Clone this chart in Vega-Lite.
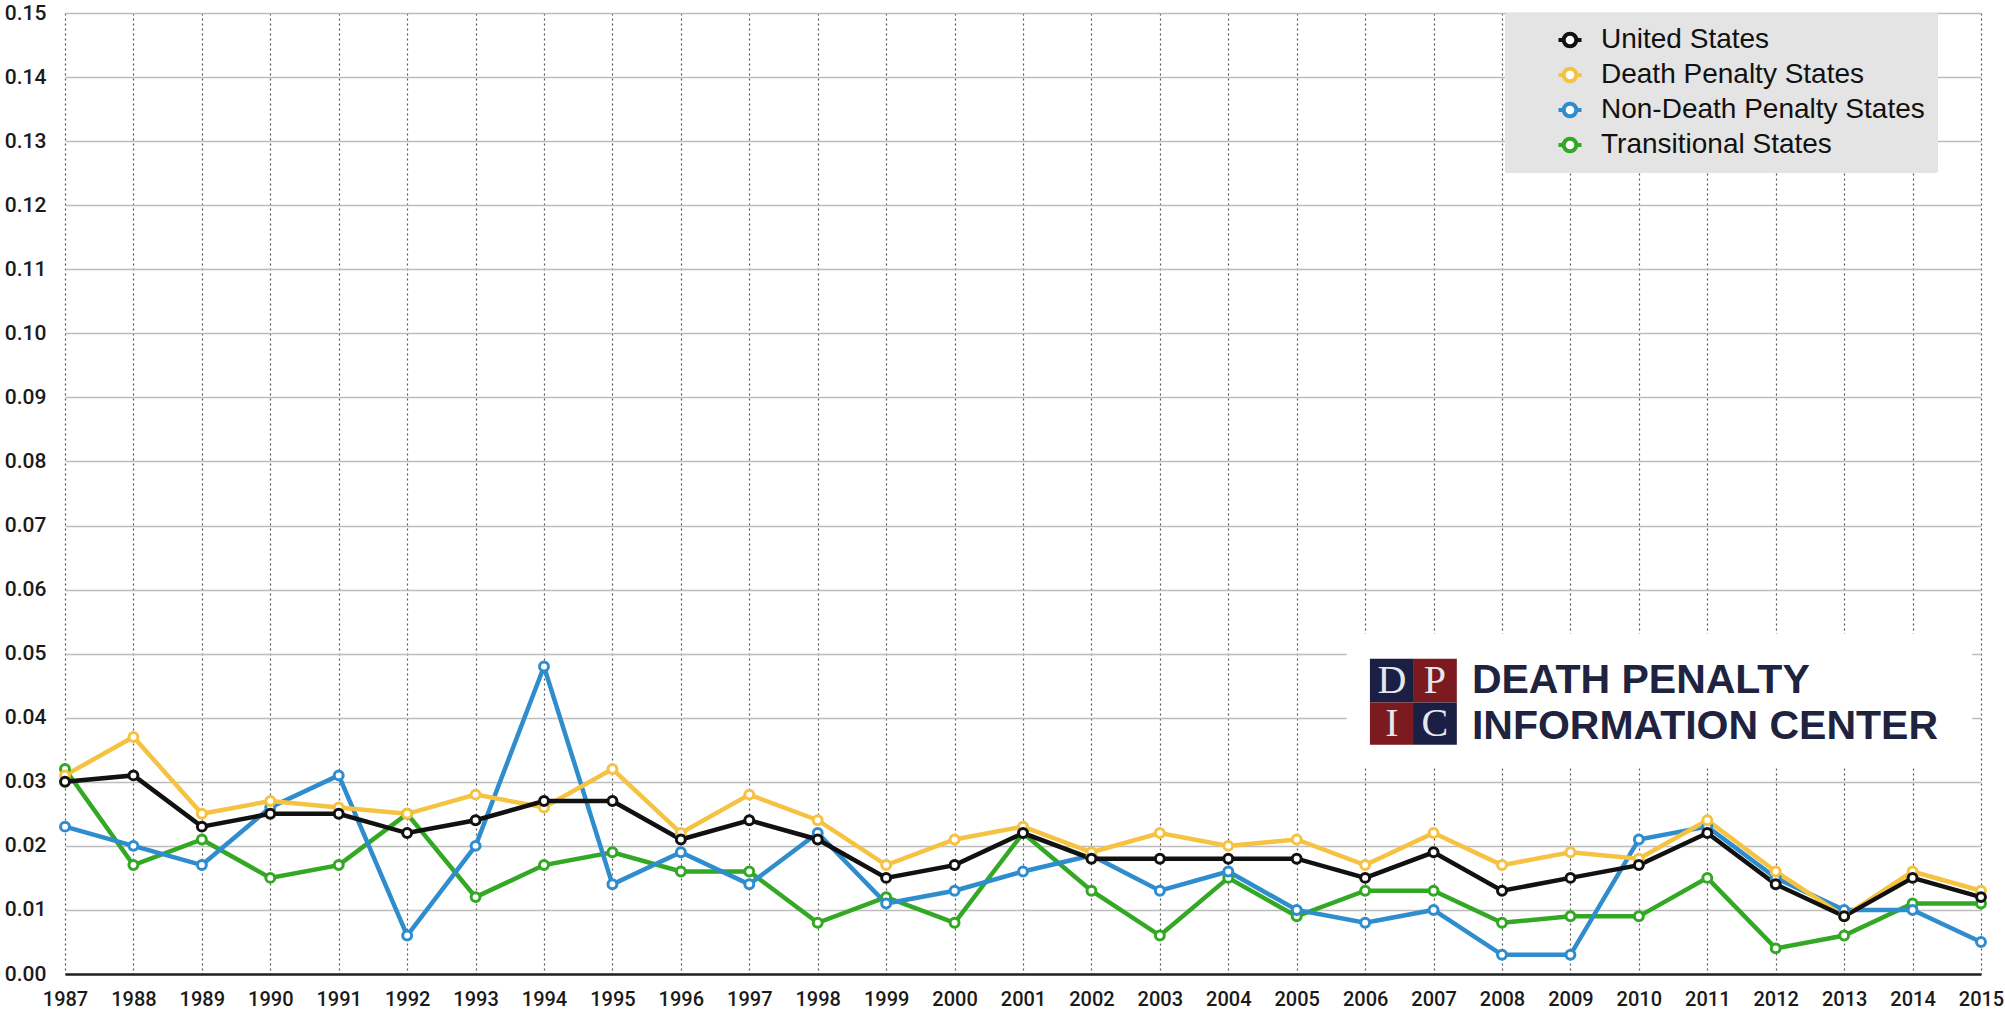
{
  "$schema": "https://vega.github.io/schema/vega-lite/v6.json",
  "width": 1916,
  "height": 961,
  "autosize": {"type": "none"},
  "padding": {"left": 65, "top": 13, "right": 24, "bottom": 38},
  "background": "white",
  "config": {
    "view": {"stroke": null},
    "font": "Roboto",
    "axis": {"labelFont": "Roboto", "labelFontWeight": 500, "labelFontSize": 20, "labelColor": "#1a1a1a", "ticks": false, "title": null}
  },
  "datasets": {
    "rates": [
      {"year":1987,"series":"Transitional States","value":0.032},
      {"year":1988,"series":"Transitional States","value":0.017},
      {"year":1989,"series":"Transitional States","value":0.021},
      {"year":1990,"series":"Transitional States","value":0.015},
      {"year":1991,"series":"Transitional States","value":0.017},
      {"year":1992,"series":"Transitional States","value":0.025},
      {"year":1993,"series":"Transitional States","value":0.012},
      {"year":1994,"series":"Transitional States","value":0.017},
      {"year":1995,"series":"Transitional States","value":0.019},
      {"year":1996,"series":"Transitional States","value":0.016},
      {"year":1997,"series":"Transitional States","value":0.016},
      {"year":1998,"series":"Transitional States","value":0.008},
      {"year":1999,"series":"Transitional States","value":0.012},
      {"year":2000,"series":"Transitional States","value":0.008},
      {"year":2001,"series":"Transitional States","value":0.022},
      {"year":2002,"series":"Transitional States","value":0.013},
      {"year":2003,"series":"Transitional States","value":0.006},
      {"year":2004,"series":"Transitional States","value":0.015},
      {"year":2005,"series":"Transitional States","value":0.009},
      {"year":2006,"series":"Transitional States","value":0.013},
      {"year":2007,"series":"Transitional States","value":0.013},
      {"year":2008,"series":"Transitional States","value":0.008},
      {"year":2009,"series":"Transitional States","value":0.009},
      {"year":2010,"series":"Transitional States","value":0.009},
      {"year":2011,"series":"Transitional States","value":0.015},
      {"year":2012,"series":"Transitional States","value":0.004},
      {"year":2013,"series":"Transitional States","value":0.006},
      {"year":2014,"series":"Transitional States","value":0.011},
      {"year":2015,"series":"Transitional States","value":0.011},
      {"year":1987,"series":"Non-Death Penalty States","value":0.023},
      {"year":1988,"series":"Non-Death Penalty States","value":0.020},
      {"year":1989,"series":"Non-Death Penalty States","value":0.017},
      {"year":1990,"series":"Non-Death Penalty States","value":0.026},
      {"year":1991,"series":"Non-Death Penalty States","value":0.031},
      {"year":1992,"series":"Non-Death Penalty States","value":0.006},
      {"year":1993,"series":"Non-Death Penalty States","value":0.020},
      {"year":1994,"series":"Non-Death Penalty States","value":0.048},
      {"year":1995,"series":"Non-Death Penalty States","value":0.014},
      {"year":1996,"series":"Non-Death Penalty States","value":0.019},
      {"year":1997,"series":"Non-Death Penalty States","value":0.014},
      {"year":1998,"series":"Non-Death Penalty States","value":0.022},
      {"year":1999,"series":"Non-Death Penalty States","value":0.011},
      {"year":2000,"series":"Non-Death Penalty States","value":0.013},
      {"year":2001,"series":"Non-Death Penalty States","value":0.016},
      {"year":2002,"series":"Non-Death Penalty States","value":0.0185},
      {"year":2003,"series":"Non-Death Penalty States","value":0.013},
      {"year":2004,"series":"Non-Death Penalty States","value":0.016},
      {"year":2005,"series":"Non-Death Penalty States","value":0.010},
      {"year":2006,"series":"Non-Death Penalty States","value":0.008},
      {"year":2007,"series":"Non-Death Penalty States","value":0.010},
      {"year":2008,"series":"Non-Death Penalty States","value":0.003},
      {"year":2009,"series":"Non-Death Penalty States","value":0.003},
      {"year":2010,"series":"Non-Death Penalty States","value":0.021},
      {"year":2011,"series":"Non-Death Penalty States","value":0.023},
      {"year":2012,"series":"Non-Death Penalty States","value":0.015},
      {"year":2013,"series":"Non-Death Penalty States","value":0.010},
      {"year":2014,"series":"Non-Death Penalty States","value":0.010},
      {"year":2015,"series":"Non-Death Penalty States","value":0.005},
      {"year":1987,"series":"Death Penalty States","value":0.031},
      {"year":1988,"series":"Death Penalty States","value":0.037},
      {"year":1989,"series":"Death Penalty States","value":0.025},
      {"year":1990,"series":"Death Penalty States","value":0.027},
      {"year":1991,"series":"Death Penalty States","value":0.026},
      {"year":1992,"series":"Death Penalty States","value":0.025},
      {"year":1993,"series":"Death Penalty States","value":0.028},
      {"year":1994,"series":"Death Penalty States","value":0.026},
      {"year":1995,"series":"Death Penalty States","value":0.032},
      {"year":1996,"series":"Death Penalty States","value":0.022},
      {"year":1997,"series":"Death Penalty States","value":0.028},
      {"year":1998,"series":"Death Penalty States","value":0.024},
      {"year":1999,"series":"Death Penalty States","value":0.017},
      {"year":2000,"series":"Death Penalty States","value":0.021},
      {"year":2001,"series":"Death Penalty States","value":0.023},
      {"year":2002,"series":"Death Penalty States","value":0.019},
      {"year":2003,"series":"Death Penalty States","value":0.022},
      {"year":2004,"series":"Death Penalty States","value":0.020},
      {"year":2005,"series":"Death Penalty States","value":0.021},
      {"year":2006,"series":"Death Penalty States","value":0.017},
      {"year":2007,"series":"Death Penalty States","value":0.022},
      {"year":2008,"series":"Death Penalty States","value":0.017},
      {"year":2009,"series":"Death Penalty States","value":0.019},
      {"year":2010,"series":"Death Penalty States","value":0.018},
      {"year":2011,"series":"Death Penalty States","value":0.024},
      {"year":2012,"series":"Death Penalty States","value":0.016},
      {"year":2013,"series":"Death Penalty States","value":0.009},
      {"year":2014,"series":"Death Penalty States","value":0.016},
      {"year":2015,"series":"Death Penalty States","value":0.013},
      {"year":1987,"series":"United States","value":0.030},
      {"year":1988,"series":"United States","value":0.031},
      {"year":1989,"series":"United States","value":0.023},
      {"year":1990,"series":"United States","value":0.025},
      {"year":1991,"series":"United States","value":0.025},
      {"year":1992,"series":"United States","value":0.022},
      {"year":1993,"series":"United States","value":0.024},
      {"year":1994,"series":"United States","value":0.027},
      {"year":1995,"series":"United States","value":0.027},
      {"year":1996,"series":"United States","value":0.021},
      {"year":1997,"series":"United States","value":0.024},
      {"year":1998,"series":"United States","value":0.021},
      {"year":1999,"series":"United States","value":0.015},
      {"year":2000,"series":"United States","value":0.017},
      {"year":2001,"series":"United States","value":0.022},
      {"year":2002,"series":"United States","value":0.018},
      {"year":2003,"series":"United States","value":0.018},
      {"year":2004,"series":"United States","value":0.018},
      {"year":2005,"series":"United States","value":0.018},
      {"year":2006,"series":"United States","value":0.015},
      {"year":2007,"series":"United States","value":0.019},
      {"year":2008,"series":"United States","value":0.013},
      {"year":2009,"series":"United States","value":0.015},
      {"year":2010,"series":"United States","value":0.017},
      {"year":2011,"series":"United States","value":0.022},
      {"year":2012,"series":"United States","value":0.014},
      {"year":2013,"series":"United States","value":0.009},
      {"year":2014,"series":"United States","value":0.015},
      {"year":2015,"series":"United States","value":0.012}
    ],
    "logoBox": [{"x1": 2005.73, "x2": 2014.87, "y1": 0.0321, "y2": 0.0531}],
    "logoCells": [
      {"cell": "D", "x1": 2006.07, "x2": 2006.70, "y1": 0.04237, "y2": 0.04921, "lx": 2006.39, "ly": 0.04579},
      {"cell": "P", "x1": 2006.70, "x2": 2007.34, "y1": 0.04237, "y2": 0.04921, "lx": 2007.02, "ly": 0.04579},
      {"cell": "I", "x1": 2006.07, "x2": 2006.70, "y1": 0.03579, "y2": 0.04237, "lx": 2006.39, "ly": 0.03908},
      {"cell": "C", "x1": 2006.70, "x2": 2007.34, "y1": 0.03579, "y2": 0.04237, "lx": 2007.02, "ly": 0.03908}
    ],
    "logoText": [
      {"line": "DEATH PENALTY", "x": 2007.56, "y": 0.04392},
      {"line": "INFORMATION CENTER", "x": 2007.56, "y": 0.03667}
    ]
  },
  "layer": [
    {
      "data": {"name": "rates"},
      "mark": {"type": "line", "strokeWidth": 4.5},
      "encoding": {
        "x": {
          "field": "year", "type": "quantitative", "title": null,
          "scale": {"domain": [1987, 2015], "nice": false, "zero": false},
          "axis": {
            "values": [1987,1988,1989,1990,1991,1992,1993,1994,1995,1996,1997,1998,1999,2000,2001,2002,2003,2004,2005,2006,2007,2008,2009,2010,2011,2012,2013,2014,2015],
            "format": "d", "labelPadding": 15, "labelFlush": false, "labelOverlap": false,
            "grid": true, "gridColor": "#555555", "gridDash": [2, 3], "gridWidth": 1.2,
            "domain": true, "domainColor": "#222222", "domainWidth": 2.5
          }
        },
        "y": {
          "field": "value", "type": "quantitative", "title": null,
          "scale": {"domain": [0, 0.15], "nice": false},
          "axis": {
            "values": [0,0.01,0.02,0.03,0.04,0.05,0.06,0.07,0.08,0.09,0.1,0.11,0.12,0.13,0.14,0.15],
            "format": ".2f", "labelPadding": 19, "labelFontSize": 21, "labelFlush": false, "labelOverlap": false,
            "grid": true, "gridColor": "#bdbdbd", "gridWidth": 1.5, "domain": false
          }
        },
        "color": {
          "field": "series", "type": "nominal",
          "sort": ["Transitional States", "Non-Death Penalty States", "Death Penalty States", "United States"],
          "scale": {
            "domain": ["United States", "Death Penalty States", "Non-Death Penalty States", "Transitional States"],
            "range": ["#111111", "#f5c242", "#2f8dce", "#33a824"]
          },
          "legend": {
            "title": null,
            "orient": "none",
            "legendX": 1440,
            "legendY": 0,
            "fillColor": "#e4e4e4",
            "cornerRadius": 2,
            "padding": 13,
            "rowPadding": 5,
            "labelFont": "Liberation Sans",
            "labelFontSize": 28,
            "labelColor": "#111111",
            "labelOffset": 17,
            "labelLimit": 600,
            "symbolType": "M-1,0H-0.55M0.55,0H1M-0.55,0A0.55,0.55,0,1,1,0.55,0A0.55,0.55,0,1,1,-0.55,0Z",
            "symbolSize": 529,
            "symbolStrokeWidth": 4,
            "symbolOffset": 38,
            "symbolFillColor": "white"
          }
        },
        "order": {"field": "year"}
      }
    },
    {
      "data": {"name": "rates"},
      "mark": {"type": "point", "filled": false, "fill": "white", "fillOpacity": 1, "size": 80, "strokeWidth": 3, "opacity": 1},
      "encoding": {
        "x": {"field": "year", "type": "quantitative", "title": null},
        "y": {"field": "value", "type": "quantitative", "title": null},
        "color": {"field": "series", "type": "nominal"}
      }
    },
    {
      "data": {"name": "logoBox"},
      "mark": {"type": "rect", "color": "white"},
      "encoding": {
        "x": {"field": "x1", "type": "quantitative", "title": null},
        "x2": {"field": "x2"},
        "y": {"field": "y1", "type": "quantitative", "title": null},
        "y2": {"field": "y2"}
      }
    },
    {
      "data": {"name": "logoCells"},
      "mark": {"type": "rect"},
      "encoding": {
        "x": {"field": "x1", "type": "quantitative", "title": null},
        "x2": {"field": "x2"},
        "y": {"field": "y1", "type": "quantitative", "title": null},
        "y2": {"field": "y2"},
        "fill": {
          "field": "cell", "type": "nominal", "legend": null,
          "scale": {"domain": ["D", "P", "I", "C"], "range": ["#1c1f44", "#7b1a1f", "#7b1a1f", "#1c1f44"]}
        }
      }
    },
    {
      "data": {"name": "logoCells"},
      "mark": {"type": "text", "font": "Liberation Serif", "fontSize": 40, "color": "#e6e6ee", "align": "center", "baseline": "middle"},
      "encoding": {
        "x": {"field": "lx", "type": "quantitative", "title": null},
        "y": {"field": "ly", "type": "quantitative", "title": null},
        "text": {"field": "cell"}
      }
    },
    {
      "data": {"name": "logoText"},
      "mark": {"type": "text", "font": "Liberation Sans", "fontWeight": "bold", "fontSize": 41, "color": "#20233f", "align": "left", "baseline": "alphabetic"},
      "encoding": {
        "x": {"field": "x", "type": "quantitative", "title": null},
        "y": {"field": "y", "type": "quantitative", "title": null},
        "text": {"field": "line"}
      }
    }
  ]
}
